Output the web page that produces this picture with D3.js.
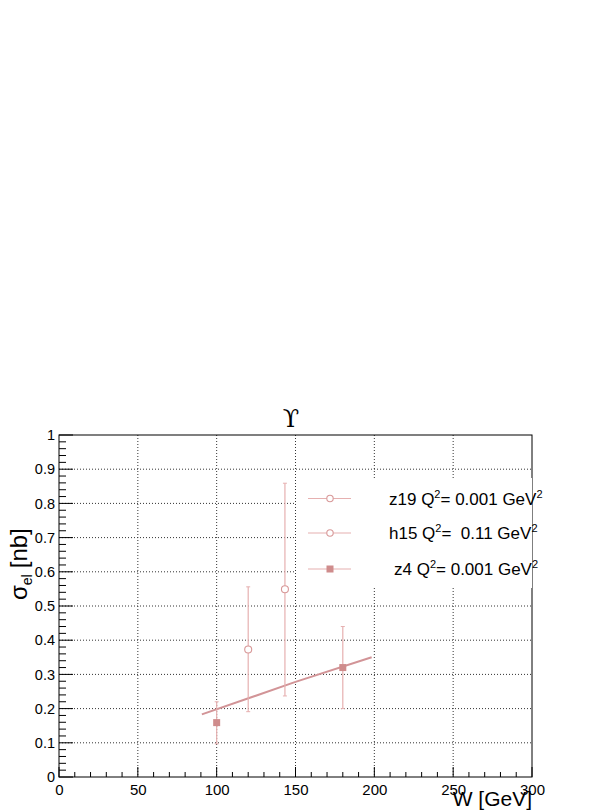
<!DOCTYPE html>
<html>
<head>
<meta charset="utf-8">
<script src="https://cdn.jsdelivr.net/npm/d3@7"></script>
<style>
  body { margin: 0; background: #fff; }
  text { font-family: "Liberation Sans", Arial, sans-serif; fill: #000; }
</style>
</head>
<body>
<div id="chart"></div>
<script>
// z19: open circles
var z19W = [120];
var z19S = [0.373];
var z19Lo = [0.191];
var z19Hi = [0.556];
// h15: open circles
var h15W = [143.3];
var h15S = [0.549];
var h15Lo = [0.237];
var h15Hi = [0.859];
// z4: filled squares
var z4W = [100, 180];
var z4S = [0.159, 0.32];
var z4Lo = [0.097, 0.2];
var z4Hi = [0.22, 0.44];
// fit line
var fitW = [90.6, 150, 198.3];
var fitS = [0.183, 0.278, 0.35];

var xTicks = [0, 50, 100, 150, 200, 250, 300];
var yTicks = [0, 0.1, 0.2, 0.3, 0.4, 0.5, 0.6, 0.7, 0.8, 0.9, 1];
var legendLabels = [
  ["z19 Q", "2", "= 0.001 GeV", "2"],
  ["h15 Q", "2", "=  0.11 GeV", "2"],
  ["z4 Q", "2", "= 0.001 GeV", "2"]
];

var W = 603, H = 811;
var pL = 59, pR = 532, pT = 435, pB = 777;

var svg = d3.select("#chart").append("svg")
  .attr("width", W)
  .attr("height", H);

var x = d3.scaleLinear().domain([0, 300]).range([pL, pR]);
var y = d3.scaleLinear().domain([0, 1]).range([pB, pT]);

var errColor = "#e6b0b0", markColor = "#cf8c8c", fitColor = "#d29497";

// grid
svg.append("g").selectAll("line")
  .data(xTicks.slice(1, -1))
  .enter().append("line")
  .attr("x1", function (d) { return x(d); })
  .attr("x2", function (d) { return x(d); })
  .attr("y1", pT).attr("y2", pB)
  .attr("stroke", "#333").attr("stroke-width", 1)
  .attr("stroke-dasharray", "1,2");
svg.append("g").selectAll("line")
  .data(yTicks.slice(1, -1))
  .enter().append("line")
  .attr("y1", function (d) { return y(d); })
  .attr("y2", function (d) { return y(d); })
  .attr("x1", pL).attr("x2", pR)
  .attr("stroke", "#333").attr("stroke-width", 1)
  .attr("stroke-dasharray", "1,2");

// frame
svg.append("rect")
  .attr("x", pL).attr("y", pT)
  .attr("width", pR - pL).attr("height", pB - pT)
  .attr("fill", "none").attr("stroke", "#000").attr("stroke-width", 1);

// x axis
var xAxis = d3.axisBottom(x).tickValues(xTicks).tickSize(0).tickPadding(7)
  .tickFormat(d3.format("d"));
var gx = svg.append("g")
  .attr("transform", "translate(0," + pB + ")")
  .call(xAxis);
gx.select(".domain").remove();
gx.selectAll("text").style("font-size", "15px").style("font-family", "'Liberation Sans', Arial, sans-serif");
svg.append("g").selectAll("line")
  .data(d3.range(0, 301, 10))
  .enter().append("line")
  .attr("x1", function (d) { return x(d); })
  .attr("x2", function (d) { return x(d); })
  .attr("y1", pB)
  .attr("y2", function (d) { return d % 50 === 0 ? pB - 10 : pB - 5; })
  .attr("stroke", "#000");

// y axis
var yAxis = d3.axisLeft(y).tickValues(yTicks).tickSize(0).tickPadding(4)
  .tickFormat(function (d) { return d === 0 || d === 1 ? d3.format("d")(d) : d3.format(".1f")(d); });
var gy = svg.append("g")
  .attr("transform", "translate(" + pL + ",0)")
  .call(yAxis);
gy.select(".domain").remove();
gy.selectAll("text").style("font-size", "14.5px").style("font-family", "'Liberation Sans', Arial, sans-serif");
svg.append("g").selectAll("line")
  .data(d3.range(0, 51).map(function (i) { return i / 50; }))
  .enter().append("line")
  .attr("y1", function (d) { return y(d); })
  .attr("y2", function (d) { return y(d); })
  .attr("x1", pL)
  .attr("x2", function (d, i) { return i % 5 === 0 ? pL + 14 : pL + 7; })
  .attr("stroke", "#000");

// fit line
svg.append("path")
  .datum(d3.range(fitW.length))
  .attr("fill", "none")
  .attr("stroke", fitColor)
  .attr("stroke-width", 2)
  .attr("d", d3.line()
    .x(function (i) { return x(fitW[i]); })
    .y(function (i) { return y(fitS[i]); }));

function drawSeries(ws, ss, lo, hi, shape) {
  var g = svg.append("g");
  ws.forEach(function (w, i) {
    var cx = x(w), cy = y(ss[i]);
    g.append("line")
      .attr("x1", cx).attr("x2", cx)
      .attr("y1", y(lo[i])).attr("y2", y(hi[i]))
      .attr("stroke", errColor).attr("stroke-width", 1.2);
    [lo[i], hi[i]].forEach(function (v) {
      g.append("line")
        .attr("x1", cx - 2).attr("x2", cx + 2)
        .attr("y1", y(v)).attr("y2", y(v))
        .attr("stroke", errColor).attr("stroke-width", 1);
    });
    if (shape === "circle") {
      g.append("circle")
        .attr("cx", cx).attr("cy", cy).attr("r", 3.5)
        .attr("fill", "#fff").attr("stroke", "#d89898").attr("stroke-width", 1.1);
    } else {
      g.append("rect")
        .attr("x", cx - 3.5).attr("y", cy - 3.5)
        .attr("width", 7).attr("height", 7)
        .attr("fill", markColor);
    }
  });
}
drawSeries(z19W, z19S, z19Lo, z19Hi, "circle");
drawSeries(h15W, h15S, h15Lo, h15Hi, "circle");
drawSeries(z4W, z4S, z4Lo, z4Hi, "square");

// legend
var legendY = [498.5, 533, 569];
var legendX = [389, 389, 394];
var legend = svg.append("g");
legend.append("rect")
  .attr("x", 296).attr("y", 478).attr("width", 236).attr("height", 110)
  .attr("fill", "#fff");
legendLabels.forEach(function (lab, i) {
  var ly = legendY[i];
  legend.append("line")
    .attr("x1", 308).attr("x2", 351)
    .attr("y1", ly).attr("y2", ly)
    .attr("stroke", errColor).attr("stroke-width", 1.2);
  if (i < 2) {
    legend.append("circle")
      .attr("cx", 330).attr("cy", ly).attr("r", 3.2)
      .attr("fill", "#fff").attr("stroke", "#d89898").attr("stroke-width", 1.1);
  } else {
    legend.append("rect")
      .attr("x", 326.5).attr("y", ly - 3.5).attr("width", 7).attr("height", 7)
      .attr("fill", markColor);
  }
  var t = legend.append("text")
    .attr("x", legendX[i]).attr("y", ly + 6)
    .style("white-space", "pre")
    .style("font-size", "17px");
  t.append("tspan").text(lab[0]);
  t.append("tspan").attr("dy", -7).style("font-size", "11px").text(lab[1]);
  t.append("tspan").attr("dy", 7).text(lab[2]);
  t.append("tspan").attr("dy", -7).style("font-size", "11px").text(lab[3]);
});

// title
svg.append("text")
  .attr("x", 291).attr("y", 427)
  .attr("text-anchor", "middle")
  .style("font-family", "'DejaVu Serif', 'Liberation Serif', serif")
  .style("font-size", "24px")
  .text("\u03D2");

// axis titles
svg.append("text")
  .attr("x", pR).attr("y", 806)
  .attr("text-anchor", "end")
  .style("font-size", "21px")
  .text("W [GeV]");

var yt = svg.append("text")
  .attr("transform", "translate(27,600) rotate(-90)")
  .attr("text-anchor", "start")
  .style("font-size", "24px");
yt.append("tspan").text("\u03C3");
yt.append("tspan").attr("dy", 5).style("font-size", "14px").text("el");
yt.append("tspan").attr("dy", -5).attr("dx", 6).text("[nb]");
</script>
</body>
</html>
